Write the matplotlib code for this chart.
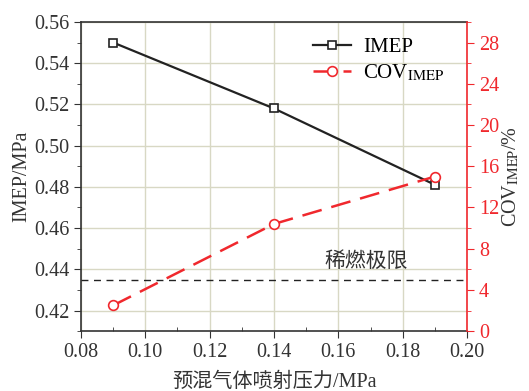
import matplotlib
matplotlib.use('Agg')
from matplotlib import pyplot as plt
from matplotlib.ticker import MultipleLocator

plt.rcParams['font.family'] = ['Liberation Serif', 'Noto Sans CJK SC']
plt.rcParams['mathtext.fontset'] = 'stix'

pressure = [0.09, 0.14, 0.19]
imep = [0.550, 0.518, 0.481]
cov = [2.5, 10.4, 15.0]
lean_limit = 5

red = '#f0282d'
grid_color = '#d8d8c4'

fig = plt.figure(figsize=(5.29, 3.91), dpi=100)
ax = fig.add_axes([0.153, 0.153, 0.730, 0.791])
ax2 = ax.twinx()

ax.set_xlim(0.08, 0.20)
ax.set_ylim(0.41, 0.56)
ax2.set_ylim(0, 30)

ax.xaxis.set_major_locator(MultipleLocator(0.02))
ax.xaxis.set_minor_locator(MultipleLocator(0.01))
ax.yaxis.set_major_locator(MultipleLocator(0.02))
ax.yaxis.set_minor_locator(MultipleLocator(0.01))
ax2.yaxis.set_major_locator(MultipleLocator(4))
ax2.yaxis.set_minor_locator(MultipleLocator(2))

ax.grid(True, which='major', color=grid_color, lw=1)
ax.set_axisbelow(True)

l1, = ax.plot(pressure, imep, color='#222222', lw=1.6, marker='s', ms=5.5,
              mfc='white', mec='#222222', mew=1.2, label='IMEP', zorder=3)
l2, = ax2.plot(pressure, cov, color=red, lw=1.8, dashes=(8, 4), marker='o', ms=7,
               mfc='white', mec=red, mew=1.2, label='COV$_{\\mathrm{IMEP}}$', zorder=3)
ax2.axhline(lean_limit, color='#222222', lw=1, dashes=(5, 4))
ax2.text(0.1685, 6.8, '稀燃极限', fontsize=15, color='#333333', ha='center', va='center',
         family=['Noto Sans CJK SC'])

ax.set_xticks([0.08, 0.10, 0.12, 0.14, 0.16, 0.18, 0.20])
ax.set_xticklabels(['0.08', '0.10', '0.12', '0.14', '0.16', '0.18', '0.20'])
ax.tick_params(axis='both', which='major', labelsize=14.5, direction='out', length=5, colors='#333333')
ax.tick_params(axis='both', which='minor', direction='out', length=3, color='#333333')
ax.tick_params(axis='x', which='minor', direction='in')
ax2.tick_params(axis='y', which='major', labelsize=14.5, direction='out', length=5,
                colors=red)
ax2.tick_params(axis='y', which='minor', direction='out', length=3, color=red)

for s in ['left', 'bottom', 'top']:
    ax.spines[s].set_color('#333333')
    ax.spines[s].set_linewidth(1.2)
ax2.spines['right'].set_color(red)
ax2.spines['right'].set_linewidth(1.2)
ax.spines['right'].set_visible(False)
ax2.spines['left'].set_visible(False)
ax2.spines['top'].set_visible(False)
ax2.spines['bottom'].set_visible(False)

ax.set_xlabel('预混气体喷射压力/MPa', fontsize=14.5, color='#333333', labelpad=8,
              family=['Liberation Serif', 'Noto Sans CJK SC'])
ax.set_ylabel('IMEP/MPa', fontsize=14.5, color='#333333', labelpad=2)
ax2.set_ylabel('COV$_{\\mathrm{IMEP}}$/%', fontsize=14.5, color='#333333', labelpad=1)

ax2.legend(handles=[l1, l2], loc='upper right', bbox_to_anchor=(0.99, 1.01), frameon=False,
           fontsize=15, handlelength=1.8, handletextpad=0.6, labelspacing=0.25)

fig.savefig('out.png', dpi=100)
